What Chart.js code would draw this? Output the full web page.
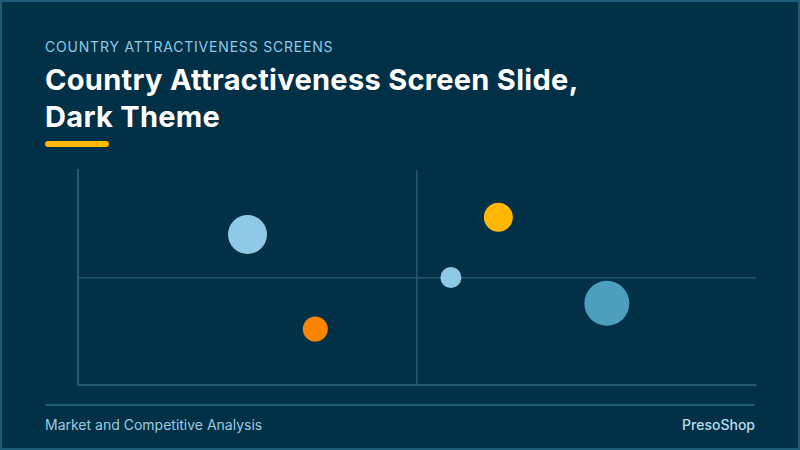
<!DOCTYPE html>
<html lang="en">
<head>
    <meta charset="UTF-8">
    <title>Country Attractiveness Screen Slide, Dark Theme</title>
    <script src="https://cdn.jsdelivr.net/npm/chart.js"></script>
    <style>
        html, body { margin: 0; padding: 0; }
        body {
            width: 800px; height: 450px; overflow: hidden;
            background: #023047;
            font-family: "Inter", "Noto Sans", sans-serif;
        }
        .slide {
            position: absolute; left: 0; top: 0;
            width: 796px; height: 446px;
            border: 2px solid #1d5c74;
        }
        .kicker {
            position: absolute; left: 43px; top: 36px;
            font-size: 14px; color: #8ecae6; letter-spacing: 0.8px;
        }
        .title {
            position: absolute; left: 43px; top: 59px;
            font-size: 29px; font-weight: 700; color: #ffffff;
            line-height: 37px; letter-spacing: 0.3px;
        }
        .accent {
            position: absolute; left: 43px; top: 139px;
            width: 64px; height: 6px; border-radius: 3px;
            background: #ffb703;
        }
        .chart-box {
            position: absolute; left: 64px; top: 156px;
            width: 702px; height: 239px;
        }
        .rule {
            position: absolute; left: 43px; top: 402px;
            width: 710px; height: 2px; background: #1d5c74;
        }
        .foot {
            position: absolute; top: 414px;
            font-size: 14px; color: #9ccbe0;
        }
        .foot.left { left: 43px; }
        .foot.right { right: 43px; font-weight: 500; color: #b9dcec; }
    </style>
</head>
<body>
    <div class="slide">
        <div class="kicker">COUNTRY ATTRACTIVENESS SCREENS</div>
        <div class="title">Country Attractiveness Screen Slide,<br>Dark Theme</div>
        <div class="accent"></div>
        <div class="chart-box"><canvas id="screenChart"></canvas></div>
        <div class="rule"></div>
        <div class="foot left">Market and Competitive Analysis</div>
        <div class="foot right">PresoShop</div>
    </div>

    <script>
        // Valeurs (axes 0 a 10, quadrants a 5)
        const xValues = [2.5, 3.5, 6.2, 5.5, 7.8];
        const yValues = [7.0, 2.6, 7.8, 5.0, 3.8];
        const sizes = [19.5, 12.5, 14.5, 10.5, 22.5];
        const bubbleColors = ['#8ecae6', '#fb8500', '#ffb703', '#8ecae6', '#4e9ebd'];

        const lineColor = '#1f5a72';

        const points = xValues.map((x, i) => ({ x: x, y: yValues[i], r: sizes[i] }));

        const midOnly = ctx => (ctx.tick && ctx.tick.value === 5) ? lineColor : 'rgba(0,0,0,0)';

        const ctx = document.getElementById('screenChart').getContext('2d');
        new Chart(ctx, {
            type: 'bubble',
            data: {
                datasets: [{
                    data: points,
                    backgroundColor: bubbleColors,
                    borderColor: bubbleColors,
                    borderWidth: 0,
                    hoverBorderWidth: 0
                }]
            },
            options: {
                responsive: true,
                maintainAspectRatio: false,
                animation: false,
                clip: false,
                layout: { autoPadding: false, padding: { left: 12, top: 12, right: 12, bottom: 12 } },
                plugins: {
                    legend: { display: false },
                    tooltip: { enabled: false }
                },
                scales: {
                    x: {
                        min: 0, max: 10,
                        ticks: { display: false, stepSize: 5 },
                        grid: { color: midOnly, lineWidth: 1.5, drawTicks: false },
                        border: { display: true, color: lineColor, width: 2 }
                    },
                    y: {
                        min: 0, max: 10,
                        ticks: { display: false, stepSize: 5 },
                        grid: { color: midOnly, lineWidth: 1.5, drawTicks: false },
                        border: { display: true, color: lineColor, width: 2 }
                    }
                }
            }
        });
    </script>
</body>
</html>
